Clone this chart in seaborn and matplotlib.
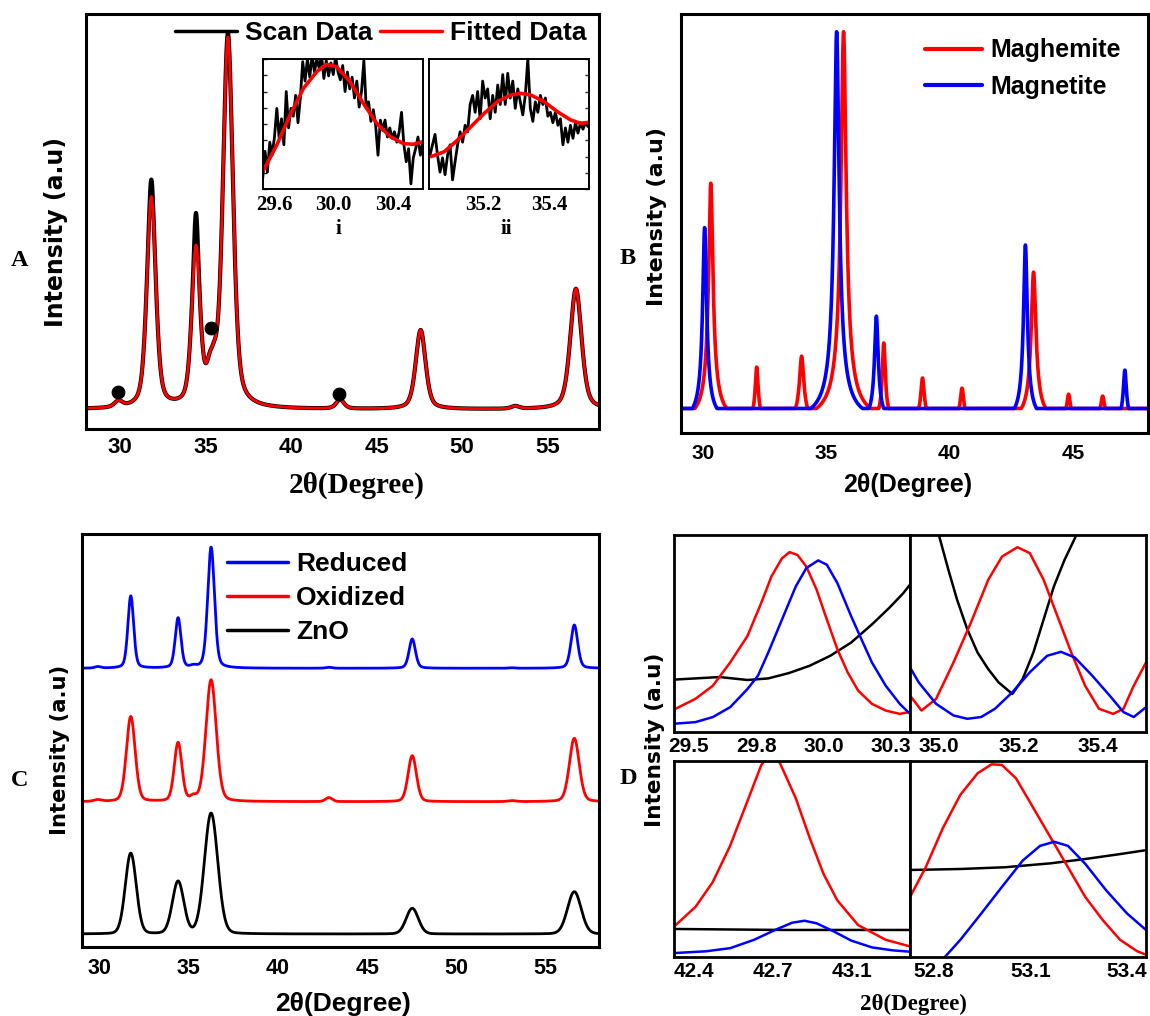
import numpy as np
import matplotlib
matplotlib.use('Agg')
import matplotlib.pyplot as plt
from matplotlib.lines import Line2D
from matplotlib.ticker import FixedLocator, MultipleLocator
import seaborn as sns

RED = '#ff0000'
BLUE = '#0000ff'
BLACK = '#000000'

# ---------------- panel A : peak table ----------------
a_pos = [29.90, 31.82, 34.43, 35.22, 35.50, 36.30, 42.86, 47.57, 53.10, 56.65]
a_fit_h = [1.6, 56.0, 41.5, 6.0, 6.0, 98.0, 2.4, 21.0, 0.7, 32.0]
a_fwhm = [0.55, 0.62, 0.58, 0.45, 0.45, 0.70, 0.55, 0.68, 0.55, 0.78]
a_scan_extra = [0.0, 4.5, 8.5, 0.0, 0.0, 1.0, 0.0, 0.0, 0.0, 0.0]
a_dot_x = [29.9, 35.3, 42.8]
a_dot_y = [4.5, 21.6, 4.1]

# inset i / ii (normalised intensity)
ins_i_scan = [0.08, 0.29, 0.13, 0.36, 0.26, 0.40, 0.62, 0.39, 0.54, 0.34,
              0.75, 0.47, 0.62, 0.56, 0.72, 0.51, 0.70, 0.98, 0.83, 1.00,
              0.86, 1.03, 0.90, 1.00, 0.93, 1.03, 0.85, 0.99, 0.87, 0.97,
              0.88, 1.02, 0.90, 0.84, 0.95, 0.75, 0.90, 0.77, 0.86, 0.70,
              0.83, 0.63, 0.75, 0.99, 0.62, 0.67, 0.52, 0.61, 0.49, 0.26,
              0.53, 0.45, 0.53, 0.40, 0.47, 0.39, 0.44, 0.36, 0.44, 0.59,
              0.34, 0.21, 0.31, 0.04, 0.24, 0.31, 0.40, 0.26, 0.35]
ins_i_fit_x = [29.52, 29.615, 29.705, 29.795, 29.885, 29.952, 30.019,
               30.109, 30.199, 30.290, 30.380, 30.470, 30.537, 30.600]
ins_i_fit_y = [0.133, 0.338, 0.569, 0.774, 0.903, 0.959, 0.941,
               0.826, 0.659, 0.505, 0.403, 0.349, 0.344, 0.364]
ins_ii_scan = [0.26, 0.34, 0.42, 0.26, 0.13, 0.24, 0.11, 0.26, 0.34, 0.07,
               0.21, 0.34, 0.44, 0.36, 0.49, 0.44, 0.65, 0.72, 0.59, 0.75,
               0.54, 0.83, 0.70, 0.77, 0.54, 0.72, 0.59, 0.80, 0.65, 0.88,
               0.65, 0.89, 0.70, 0.83, 0.62, 0.77, 0.67, 0.57, 0.72, 1.00,
               0.62, 0.52, 0.67, 0.59, 0.72, 0.65, 0.70, 0.56, 0.59, 0.51,
               0.59, 0.49, 0.54, 0.34, 0.47, 0.36, 0.49, 0.39, 0.51, 0.43,
               0.51, 0.46, 0.51, 0.48]
ins_ii_fit_x = [35.043, 35.083, 35.123, 35.163, 35.203, 35.243, 35.283,
                35.313, 35.343, 35.383, 35.423, 35.463, 35.493, 35.517]
ins_ii_fit_y = [0.249, 0.287, 0.377, 0.479, 0.582, 0.672, 0.723,
                0.736, 0.723, 0.672, 0.595, 0.531, 0.505, 0.513]

# ---------------- panel B : reference patterns (position, height, half base width) ----------------
b_mgh_pos = [30.32, 32.18, 34.00, 35.70, 37.33, 38.90, 40.50, 43.40, 44.82, 46.20]
b_mgh_h = [59.8, 11.0, 13.9, 100.0, 17.4, 8.1, 5.4, 36.2, 3.8, 3.3]
b_mgh_base = [0.65, 0.15, 0.25, 1.10, 0.20, 0.15, 0.12, 0.50, 0.10, 0.10]
b_mgt_pos = [30.07, 35.42, 37.03, 43.07, 47.10]
b_mgt_h = [48.0, 100.0, 24.5, 43.4, 10.2]
b_mgt_base = [0.50, 1.05, 0.30, 0.45, 0.15]

# ---------------- panel C : stacked patterns ----------------
c_pos = [29.90, 31.75, 34.40, 35.25, 36.25, 42.85, 47.52, 53.10, 56.60]
c_zno_h = [0.0, 80.7, 52.3, 0.0, 120.7, 0.0, 25.7, 0.0, 42.3]
c_zno_w = [0.70, 0.72, 0.75, 0.70, 0.88, 0.70, 0.80, 0.70, 0.90]
c_ox_h = [1.7, 85.0, 58.4, 4.0, 121.7, 4.0, 46.0, 1.0, 63.4]
c_ox_w = [0.50, 0.58, 0.50, 0.40, 0.68, 0.45, 0.55, 0.50, 0.65]
c_red_h = [1.5, 72.3, 50.0, 1.5, 121.0, 1.0, 29.3, 0.5, 43.3]
c_red_w = [0.40, 0.38, 0.38, 0.35, 0.45, 0.40, 0.42, 0.40, 0.45]
c_offset = {'ZnO': 12.7, 'Oxidized': 145.0, 'Reduced': 278.4}

# ---------------- panel D : zoomed regions ----------------
d_tl = {
    'red': ([29.496, 29.575, 29.640, 29.704, 29.768, 29.819, 29.857, 29.896, 29.924, 29.953,
             29.986, 30.024, 30.062, 30.101, 30.139, 30.178, 30.229, 30.280, 30.332, 30.367],
            [0.114, 0.168, 0.235, 0.353, 0.487, 0.655, 0.790, 0.882, 0.913, 0.899,
             0.840, 0.723, 0.571, 0.420, 0.303, 0.210, 0.143, 0.109, 0.092, 0.101]),
    'blue': ([29.496, 29.575, 29.640, 29.704, 29.768, 29.807, 29.845, 29.896, 29.947, 29.986,
              30.030, 30.062, 30.101, 30.152, 30.190, 30.229, 30.280, 30.332, 30.370],
             [0.042, 0.050, 0.076, 0.126, 0.218, 0.286, 0.403, 0.571, 0.739, 0.832,
              0.871, 0.849, 0.756, 0.588, 0.471, 0.353, 0.235, 0.143, 0.092]),
    'black': ([29.496, 29.575, 29.665, 29.768, 29.845, 29.921, 29.998, 30.075, 30.152,
               30.229, 30.293, 30.344, 30.370],
              [0.266, 0.272, 0.279, 0.264, 0.272, 0.299, 0.336, 0.387, 0.454,
               0.546, 0.630, 0.703, 0.748]),
}
d_tr = {
    'red': ([34.926, 34.955, 34.992, 35.036, 35.080, 35.124, 35.159, 35.198, 35.229,
             35.264, 35.299, 35.334, 35.369, 35.404, 35.440, 35.466, 35.492, 35.523],
            [0.185, 0.109, 0.168, 0.353, 0.555, 0.773, 0.891, 0.938, 0.908,
             0.773, 0.588, 0.403, 0.235, 0.118, 0.092, 0.118, 0.235, 0.353]),
    'blue': ([34.926, 34.948, 34.992, 35.036, 35.071, 35.106, 35.141, 35.185, 35.229,
              35.273, 35.308, 35.343, 35.387, 35.431, 35.466, 35.492, 35.523],
             [0.328, 0.252, 0.143, 0.084, 0.067, 0.076, 0.118, 0.202, 0.303,
              0.387, 0.407, 0.378, 0.286, 0.185, 0.101, 0.076, 0.126]),
    'black': ([34.983, 34.999, 35.023, 35.045, 35.071, 35.097, 35.124, 35.150, 35.185,
               35.211, 35.238, 35.264, 35.290, 35.317, 35.347, 35.365],
              [1.126, 1.000, 0.824, 0.672, 0.521, 0.403, 0.319, 0.252, 0.193,
               0.269, 0.403, 0.571, 0.739, 0.874, 1.000, 1.076]),
}
d_bl = {
    'red': ([42.333, 42.426, 42.500, 42.575, 42.649, 42.709, 42.751, 42.791, 42.858,
             42.918, 42.978, 43.037, 43.127, 43.246, 43.351],
            [0.155, 0.256, 0.382, 0.567, 0.793, 0.978, 1.045, 0.987, 0.811,
             0.609, 0.424, 0.290, 0.163, 0.088, 0.054]),
    'blue': ([42.333, 42.470, 42.575, 42.679, 42.769, 42.843, 42.896, 42.948, 43.023,
              43.097, 43.187, 43.276, 43.351],
             [0.020, 0.029, 0.045, 0.088, 0.138, 0.175, 0.185, 0.172, 0.130,
              0.084, 0.049, 0.034, 0.027]),
    'black': ([42.333, 42.800, 43.351], [0.143, 0.138, 0.138]),
}
d_br = {
    'red': ([52.725, 52.774, 52.828, 52.882, 52.936, 52.979, 53.011, 53.055, 53.109,
             53.163, 53.217, 53.271, 53.325, 53.379, 53.433, 53.460],
            [0.306, 0.458, 0.660, 0.828, 0.938, 0.983, 0.980, 0.912, 0.761,
             0.609, 0.458, 0.306, 0.189, 0.088, 0.029, 0.012]),
    'blue': ([52.817, 52.882, 52.947, 53.011, 53.076, 53.130, 53.174, 53.217, 53.271,
              53.336, 53.401, 53.460],
             [-0.030, 0.088, 0.222, 0.357, 0.492, 0.567, 0.588, 0.567, 0.475,
              0.340, 0.222, 0.138]),
    'black': ([52.725, 52.882, 53.022, 53.163, 53.271, 53.379, 53.460],
              [0.444, 0.449, 0.458, 0.478, 0.500, 0.525, 0.545]),
}


def pseudo_voigt(x, pos, heights, widths, eta):
    out = np.zeros_like(x)
    for p, h, w in zip(pos, heights, widths):
        d = (x - p) / w
        out += h * (eta / (1 + 4 * d ** 2) + (1 - eta) * np.exp(-4 * np.log(2) * d ** 2))
    return out


def stick_peaks(x, pos, heights, base, m=0.7, floor=4.0):
    # heavy-tailed peaks that drop to the baseline at +-base
    out = np.zeros_like(x)
    for p, h, b in zip(pos, heights, base):
        a = b / np.sqrt(((h + floor) / floor) ** (1 / m) - 1)
        out += np.clip((h + floor) / (1 + ((x - p) / a) ** 2) ** m - floor, 0, None)
    return out


def line(ax, x, y, color, lw):
    sns.lineplot(x=np.asarray(x), y=np.asarray(y), ax=ax, color=color, lw=lw,
                 sort=False, estimator=None, legend=False)


def frame(ax, lw=2.2):
    for s in ax.spines.values():
        s.set_linewidth(lw)
        s.set_color(BLACK)
        s.set_visible(True)
    ax.set_xlabel('')
    ax.set_ylabel('')


sns.set_style('white')
plt.rcParams['font.family'] = ['Liberation Sans', 'DejaVu Sans']
plt.rcParams['font.weight'] = 'bold'
plt.rcParams['text.color'] = BLACK
plt.rcParams['xtick.color'] = BLACK
plt.rcParams['axes.edgecolor'] = BLACK

W, H = 1150, 1016
fig = plt.figure(figsize=(W / 100, H / 100), dpi=100)


def px_axes(x0, y0, x1, y1):
    return fig.add_axes([x0 / W, 1 - y1 / H, (x1 - x0) / W, (y1 - y0) / H])


def fig_text(px, py, s, **kw):
    fig.text(px / W, 1 - py / H, s, ha='center', va='center', **kw)


SERIF = {'family': 'Liberation Serif', 'weight': 'bold'}
YLAB = {'family': 'DejaVu Sans', 'weight': 'bold'}

# ---------------- A ----------------
axA = px_axes(86, 14, 599, 429)
xa = np.linspace(28, 58, 3000)
fit_a = pseudo_voigt(xa, a_pos, a_fit_h, a_fwhm, 0.45)
scan_a = fit_a + pseudo_voigt(xa, a_pos, a_scan_extra, [0.22] * len(a_pos), 0.0)
line(axA, xa, scan_a, BLACK, 3.0)
line(axA, xa, fit_a, RED, 2.0)
sns.scatterplot(x=a_dot_x, y=a_dot_y, ax=axA, color=BLACK, s=85, edgecolor=BLACK, zorder=5)
axA.set_xlim(28, 58)
axA.set_ylim(-5.2, 105.0)
axA.set_yticks([])
axA.xaxis.set_major_locator(MultipleLocator(5))
axA.xaxis.set_minor_locator(MultipleLocator(2.5))
axA.tick_params(axis='x', which='major', direction='in', length=6, width=1.6,
                labelsize=16, pad=6)
axA.tick_params(axis='x', which='minor', direction='in', length=4, width=1.4)
frame(axA)
axA.legend(handles=[Line2D([], [], color=BLACK, lw=2.5), Line2D([], [], color=RED, lw=2.5)],
           labels=['Scan Data', 'Fitted Data'], ncol=2, frameon=False,
           loc='center left', bbox_to_anchor=(175 / W, 1 - 33 / H),
           bbox_transform=fig.transFigure, borderpad=0, borderaxespad=0,
           handlelength=2.35, handletextpad=0.3, columnspacing=0.3,
           prop={'family': 'Liberation Sans', 'weight': 'bold', 'size': 19})

# insets
ins_i = px_axes(262.7, 59, 422.7, 189)
line(ins_i, np.linspace(29.52, 30.60, len(ins_i_scan)), ins_i_scan, BLACK, 2.0)
line(ins_i, ins_i_fit_x, ins_i_fit_y, RED, 2.6)
ins_i.set_xlim(29.52, 30.60)
ins_i.xaxis.set_major_locator(FixedLocator([29.6, 30.0, 30.4]))
ins_i.xaxis.set_minor_locator(FixedLocator([29.8, 30.2]))
ins_ii = px_axes(429, 59, 589, 189)
line(ins_ii, np.linspace(35.04, 35.515, len(ins_ii_scan)), ins_ii_scan, BLACK, 2.0)
line(ins_ii, ins_ii_fit_x, ins_ii_fit_y, RED, 2.6)
ins_ii.set_xlim(35.037, 35.518)
ins_ii.xaxis.set_major_locator(FixedLocator([35.2, 35.4]))
ins_ii.xaxis.set_minor_locator(FixedLocator([35.1, 35.3, 35.5]))
for ax, side in ((ins_i, 'left'), (ins_ii, 'right')):
    ax.set_ylim(0, 1)
    ax.yaxis.set_major_locator(MultipleLocator(0.125))
    ax.tick_params(axis='y', which='major', direction='in', length=3, width=1,
                   left=(side == 'left'), right=(side == 'right'), labelleft=False)
    ax.tick_params(axis='x', which='both', direction='in', length=3, width=1, pad=4)
    ax.set_xticks(ax.get_xticks())
    ax.set_xticklabels([f'{t:.1f}' for t in ax.get_xticks()], fontdict=SERIF, fontsize=15)
    frame(ax, 1.4)
    ax.set_facecolor('white')
fig_text(338, 229, 'i', fontdict=SERIF, fontsize=15)
fig_text(506.7, 229, 'ii', fontdict=SERIF, fontsize=15)

fig_text(19.5, 260, 'A', fontdict=SERIF, fontsize=17.5)
fig_text(56.5, 232, 'Intensity (a.u)', fontdict=YLAB, fontsize=17, rotation=90)
fig_text(357, 485, '2θ(Degree)', fontdict=SERIF, fontsize=21)

# ---------------- B ----------------
axB = px_axes(680.7, 14, 1148.3, 433)
xb = np.linspace(29.1, 48.05, 5000)
line(axB, xb, stick_peaks(xb, b_mgh_pos, b_mgh_h, b_mgh_base), RED, 2.6)
line(axB, xb, stick_peaks(xb, b_mgt_pos, b_mgt_h, b_mgt_base), BLUE, 2.6)
axB.set_xlim(29.1, 48.05)
axB.set_ylim(-6.5, 104.7)
axB.set_yticks([])
axB.xaxis.set_major_locator(MultipleLocator(5))
axB.xaxis.set_minor_locator(MultipleLocator(2.5))
axB.tick_params(axis='x', which='major', direction='in', length=6, width=1.6,
                labelsize=15, pad=8)
axB.tick_params(axis='x', which='minor', direction='in', length=4, width=1.4)
frame(axB)
axB.legend(handles=[Line2D([], [], color=RED, lw=3), Line2D([], [], color=BLUE, lw=3)],
           labels=['Maghemite', 'Magnetite'], frameon=False,
           loc='center left', bbox_to_anchor=(925 / W, 1 - 68.7 / H),
           bbox_transform=fig.transFigure, borderpad=0, borderaxespad=0,
           handlelength=2.28, handletextpad=0.32, labelspacing=0.5,
           prop={'family': 'Liberation Sans', 'weight': 'bold', 'size': 18})
fig_text(628, 259, 'B', fontdict=SERIF, fontsize=17.5)
fig_text(657, 216, 'Intensity (a.u)', fontdict=YLAB, fontsize=16, rotation=90)
fig_text(908, 485, '2θ(Degree)', fontsize=18, fontweight='bold')

# ---------------- C ----------------
axC = px_axes(81.7, 534, 599.3, 946.7)
xc = np.linspace(29, 58, 3000)
line(axC, xc, c_offset['Reduced'] + pseudo_voigt(xc, c_pos, c_red_h, c_red_w, 0.3), BLUE, 2.0)
line(axC, xc, c_offset['Oxidized'] + pseudo_voigt(xc, c_pos, c_ox_h, c_ox_w, 0.2), RED, 2.0)
line(axC, xc, c_offset['ZnO'] + pseudo_voigt(xc, c_pos, c_zno_h, c_zno_w, 0.1), BLACK, 2.0)
axC.set_xlim(29, 58)
axC.set_ylim(0, 412.7)
axC.set_yticks([])
axC.xaxis.set_major_locator(MultipleLocator(5))
axC.xaxis.set_minor_locator(MultipleLocator(2.5))
axC.tick_params(axis='x', which='major', direction='in', length=6, width=1.6,
                labelsize=15.5, pad=8)
axC.tick_params(axis='x', which='minor', direction='in', length=4, width=1.4)
frame(axC)
axC.legend(handles=[Line2D([], [], color=c, lw=2.5) for c in (BLUE, RED, BLACK)],
           labels=['Reduced', 'Oxidized', 'ZnO'], frameon=False,
           loc='center left', bbox_to_anchor=(226.7 / W, 1 - 598 / H),
           bbox_transform=fig.transFigure, borderpad=0, borderaxespad=0,
           handlelength=2.32, handletextpad=0.3, labelspacing=0.38,
           prop={'family': 'Liberation Sans', 'weight': 'bold', 'size': 19})
fig_text(20, 780, 'C', fontdict=SERIF, fontsize=17.5)
fig_text(60, 750, 'Intensity (a.u)', fontdict=YLAB, fontsize=15.2, rotation=90)
fig_text(343, 1004, '2θ(Degree)', fontsize=19, fontweight='bold')

# ---------------- D ----------------
d_panels = [
    (d_tl, (674, 535, 910, 732), (29.496, 30.37), [29.55, 29.80, 30.05, 30.30],
     ['29.5', '29.8', '30.0', '30.3'], [29.675, 29.925, 30.175]),
    (d_tr, (910, 535, 1146, 732), (34.926, 35.523), [35.0, 35.2, 35.4],
     ['35.0', '35.2', '35.4'], [35.1, 35.3, 35.5]),
    (d_bl, (674, 761, 910, 957), (42.333, 43.351), [42.42, 42.76, 43.10],
     ['42.4', '42.7', '43.1'], [42.59, 42.93, 43.27]),
    (d_br, (910, 761, 1146, 957), (52.725, 53.46), [52.8, 53.1, 53.4],
     ['52.8', '53.1', '53.4'], [52.95, 53.25]),
]
for curves, box, lim, ticks, labels, minor in d_panels:
    ax = px_axes(*box)
    for key, col in (('black', BLACK), ('red', RED), ('blue', BLUE)):
        line(ax, curves[key][0], curves[key][1], col, 1.8)
    ax.set_xlim(*lim)
    ax.set_ylim(0, 1)
    ax.set_yticks([])
    ax.set_xticks(ticks)
    ax.set_xticklabels(labels)
    ax.xaxis.set_minor_locator(FixedLocator(minor))
    ax.tick_params(axis='x', which='major', direction='in', length=5, width=1.4,
                   labelsize=15, pad=3.5)
    ax.tick_params(axis='x', which='minor', direction='in', length=3, width=1.2)
    frame(ax, 2.0)
fig_text(628, 779, 'D', fontdict=SERIF, fontsize=17.5)
fig_text(655, 740, 'Intensity (a.u)', fontdict=YLAB, fontsize=15.6, rotation=90)
fig_text(913, 1004, '2θ(Degree)', fontdict=SERIF, fontsize=16.5)

fig.savefig('out.png', dpi=100)
